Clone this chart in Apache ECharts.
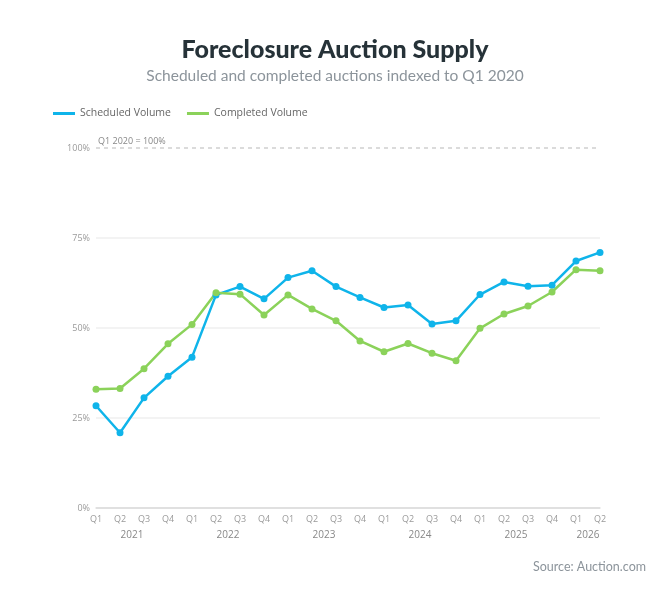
<!DOCTYPE html>
<html>
<head>
    <meta charset="utf-8">
    <title>Foreclosure Auction Supply</title>
    <script src="https://cdn.jsdelivr.net/npm/echarts@6/dist/echarts.min.js"></script>
    <style>
        html, body { margin: 0; padding: 0; background: #fff; }
        #main { width: 670px; height: 592px; }
    </style>
</head>
<body>
<div id="main"></div>
<script type="text/javascript">
    // quarters 2021 Q1 .. 2026 Q2
    var quarters = ['Q1','Q2','Q3','Q4','Q1','Q2','Q3','Q4','Q1','Q2','Q3','Q4',
                    'Q1','Q2','Q3','Q4','Q1','Q2','Q3','Q4','Q1','Q2'];
    var years = ['2021','2021','2021','2021','2022','2022','2022','2022','2023','2023','2023','2023',
                 '2024','2024','2024','2024','2025','2025','2025','2025','2026','2026'];
    var scheduled = [28.4, 20.9, 30.6, 36.6, 41.9, 59.2, 61.5, 58.1, 64.0, 65.9, 61.5, 58.5,
                     55.7, 56.4, 51.1, 52.0, 59.3, 62.8, 61.6, 61.9, 68.6, 71.0];
    var completed = [33.0, 33.2, 38.7, 45.6, 51.0, 59.8, 59.4, 53.6, 59.2, 55.3, 52.0, 46.4,
                     43.4, 45.7, 43.0, 40.9, 49.9, 53.9, 56.1, 60.0, 66.2, 65.9];
    var yTicks = [0, 25, 50, 75, 100];

    // centre index of each year group, for the second label row
    var yearCentre = {};
    (function () {
        var first = {}, last = {};
        years.forEach(function (y, i) {
            if (first[y] === undefined) first[y] = i;
            last[y] = i;
        });
        for (var y in first) yearCentre[((first[y] + last[y]) / 2).toFixed(1)] = y;
    })();

    var blue = '#0fb4ea';
    var green = '#8bd25a';
    var axisText = '#9a9a9a';

    var myChart = echarts.init(document.getElementById('main'));
    var option = {
        backgroundColor: '#fff',
        animation: false,
        title: [{
            text: 'Foreclosure Auction Supply',
            left: 'center',
            top: 32,
            textStyle: { fontFamily: 'Lato', fontWeight: 900, fontSize: 25, color: '#263238' }
        }, {
            text: 'Scheduled and completed auctions indexed to Q1 2020',
            left: 'center',
            top: 63,
            textStyle: { fontFamily: 'Lato', fontWeight: 'normal', fontSize: 15.5, color: '#8c949b' }
        }, {
            text: 'Source: Auction.com',
            right: 19,
            top: 555,
            textStyle: { fontFamily: 'Lato', fontWeight: 'normal', fontSize: 12.5, color: '#8c949b' }
        }],
        legend: {
            left: 48,
            top: 103,
            itemWidth: 22,
            itemHeight: 3,
            itemGap: 16,
            icon: 'rect',
            textStyle: { fontFamily: 'Open Sans', fontSize: 10.5, color: '#666' },
            data: ['Scheduled Volume', 'Completed Volume']
        },
        grid: { left: 96, right: 70, top: 148, bottom: 84 },
        xAxis: [{
            type: 'category',
            data: quarters,
            boundaryGap: false,
            axisLine: { lineStyle: { color: '#dedede', width: 1.5 } },
            axisTick: { show: false },
            axisLabel: { color: axisText, fontFamily: 'Open Sans', fontSize: 9, margin: 7, interval: 0 }
        }, {
            type: 'value',
            position: 'bottom',
            min: 0,
            max: quarters.length - 1,
            interval: 0.5,
            axisLine: { show: false },
            axisTick: { show: false },
            splitLine: { show: false },
            axisLabel: {
                color: '#888', fontFamily: 'Open Sans', fontSize: 10, margin: 22,
                showMinLabel: true, showMaxLabel: true,
                formatter: function (v) { return yearCentre[v.toFixed(1)] || ''; }
            }
        }],
        yAxis: {
            type: 'value',
            min: 0,
            max: 100,
            interval: 25,
            axisLine: { show: false },
            axisTick: { show: false },
            axisLabel: { color: axisText, fontFamily: 'Open Sans', fontSize: 9, margin: 6,
                formatter: function (v) { return yTicks.indexOf(v) >= 0 ? v + '%' : ''; } },
            splitLine: { lineStyle: { color: ['#dedede', '#efefef', '#efefef', '#efefef', 'rgba(0,0,0,0)'], width: 1.5 } }
        },
        series: [{
            name: 'Scheduled Volume',
            type: 'line',
            data: scheduled,
            color: blue,
            symbol: 'circle',
            symbolSize: 7,
            lineStyle: { width: 2.5 },
            markLine: {
                silent: true,
                symbol: 'none',
                lineStyle: { type: [4, 4], color: '#cfcfcf', width: 1.5 },
                label: {
                    position: 'insideStartTop',
                    formatter: 'Q1 2020 = 100%',
                    color: '#888', fontFamily: 'Open Sans', fontSize: 9, distance: [2, 2]
                },
                data: [{ yAxis: 100 }]
            }
        }, {
            name: 'Completed Volume',
            type: 'line',
            data: completed,
            color: green,
            symbol: 'circle',
            symbolSize: 7,
            lineStyle: { width: 2.5 }
        }]
    };
    myChart.setOption(option);
</script>
</body>
</html>
